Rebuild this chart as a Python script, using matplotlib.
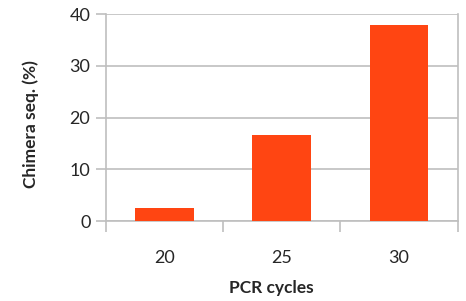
import matplotlib
matplotlib.use("Agg")
import matplotlib.pyplot as plt

# PCR cycles vs chimera percentage
cycles = ["20", "25", "30"]
chimera = [2.5, 16.7, 37.9]

plt.rcParams['font.family'] = ['Lato', 'DejaVu Sans']

fig = plt.figure(figsize=(4.66, 3.01), dpi=100)
ax = fig.add_axes([105.7 / 466, 1 - 221 / 301, 352 / 466, 206.7 / 301])

x = range(len(cycles))
ax.bar(x, chimera, width=0.5, color='#FF4512', zorder=3)

ax.set_xlim(-0.5, 2.5)
ax.set_ylim(0, 40)
ax.set_yticks([0, 10, 20, 30, 40])

grid_c = '#BFBFBF'
ax.yaxis.grid(True, color=grid_c, linewidth=1.2, zorder=0)
for s in ['left', 'bottom', 'right']:
    ax.spines[s].set_color(grid_c)
    ax.spines[s].set_linewidth(1.2)
ax.spines['top'].set_visible(False)

# x ticks between categories (excel style)
ax.set_xticks([-0.5, 0.5, 1.5, 2.5])
ax.set_xticklabels([])
ax.set_xticks(list(x), minor=True)
ax.set_xticklabels(cycles, minor=True)
ax.tick_params(axis='x', which='major', length=8, width=1.2, color=grid_c, direction='out')
ax.tick_params(axis='x', which='minor', length=0, pad=21, labelsize=13, labelcolor='#262626')
ax.tick_params(axis='y', length=7, width=1.2, color=grid_c, pad=4, labelsize=13, labelcolor='#262626')

ax.set_xlabel("PCR cycles", fontsize=12.5, fontweight='bold', color='#262626')
ax.xaxis.set_label_coords(0.47, -0.285)
ax.set_ylabel("Chimera seq. (%)", fontsize=12.5, fontweight='bold', color='#262626')
ax.yaxis.set_label_coords(-0.19, 0.47)

fig.savefig("out.png", dpi=100)
